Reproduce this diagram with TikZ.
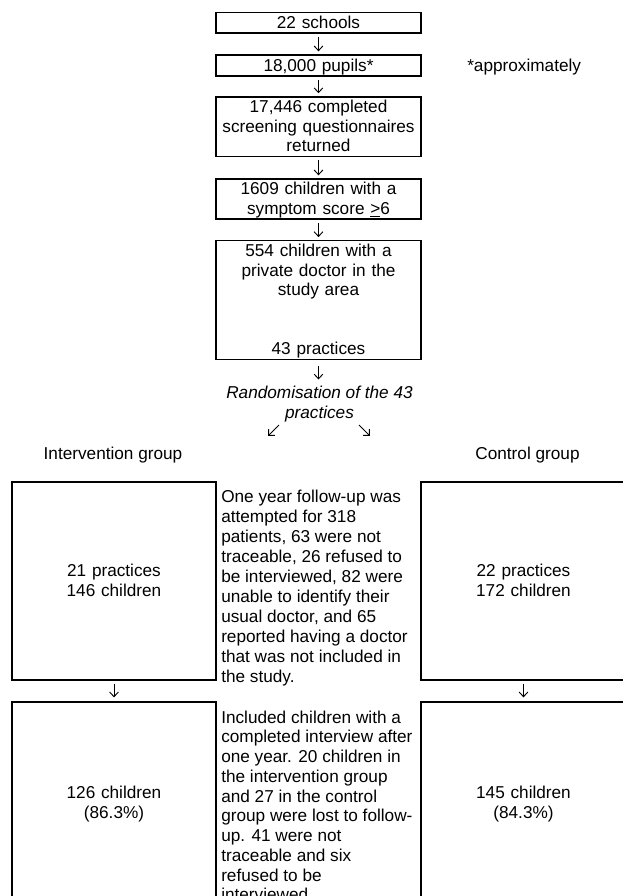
\documentclass[tikz,border=0pt]{standalone}
\usepackage{fontspec}
\setmainfont{Liberation Sans}
\usetikzlibrary{arrows.meta}
\newcommand\mystrut{\rule[-3.16pt]{0pt}{14.8pt}}
\begin{document}
\begin{tikzpicture}[x=0.75pt,y=-0.75pt,
  every node/.style={font=\fontsize{12.9pt}{14.8pt}\selectfont, inner sep=0pt},
  cbox/.style={draw, line width=0.9pt, align=center, text width=150pt, minimum width=153.75pt,
    execute at begin node=\mystrut, execute at end node=\mystrut},
  sbox/.style={cbox, minimum width=153pt},
  note/.style={align=left, anchor=north west, execute at begin node=\mystrut},
  arr/.style={line width=0.7pt, -{Straight Barb[length=3.5pt,width=6.5pt]}},
  vshort/.style={shorten <=2.6pt, shorten >=2.3pt}
]
\useasboundingbox (0,0) rectangle (623,896);
% central column
\node[cbox, minimum height=15.2pt] (b1) at (318.5,22.85) {22 schools};
\node[cbox, minimum height=15.75pt] (b2) at (318.5,65.5) {18,000 pupils*};
\node[cbox, minimum height=42.75pt] (b3) at (318.5,126.5) {17,446 completed\\screening questionnaires\\returned};
\node[cbox, minimum height=30pt] (b4) at (318.5,199) {1609 children with a\\symptom score \underline{>}6};
\node[cbox, minimum height=88.5pt] (b5) at (318.5,300) {554 children with a\\private doctor in the\\study area\\\mystrut\\\mystrut\\43 practices};
\node[anchor=base west] (ap) at (467,71.7) {*approximately};
\node[font=\fontsize{12.9pt}{15pt}\selectfont\itshape, align=center, anchor=north,
  execute at begin node=\mystrut] (rand) at (319.5,385.5) {Randomisation of the 43\\practices};
% group labels
\node[anchor=base] (ig) at (113,459.3) {Intervention group};
\node[anchor=base] (cg) at (527.5,459.3) {Control group};
% side boxes
\node[sbox, minimum height=148.5pt] (L1) at (114,581) {21 practices\\146 children};
\node[sbox, minimum height=148.5pt, minimum width=153.75pt] (R1) at (523.5,581) {22 practices\\172 children};
\node[sbox, minimum height=151.5pt] (L2) at (114,803) {126 children\\(86.3\%)};
\node[sbox, minimum height=151.5pt, minimum width=153.75pt] (R2) at (523.5,803) {145 children\\(84.3\%)};
% notes
\node[note, font=\fontsize{12.9pt}{15pt}\selectfont] (n1) at (221,489.5) {One year follow-up was\\attempted for 318\\patients, 63 were not\\traceable, 26 refused to\\be interviewed, 82 were\\unable to identify their\\usual doctor, and 65\\reported having a doctor\\that was not included in\\the study.};
\node[note] (n2) at (221,710.5) {Included children with a\\completed interview after\\one year. 20 children in\\the intervention group\\and 27 in the control\\group were lost to follow-\\up. 41 were not\\traceable and six\\refused to be\\interviewed.};
% connectors
\draw[arr, vshort] (b1) -- (b2);
\draw[arr, vshort] (b2) -- (b3);
\draw[arr, vshort] (b3) -- (b4);
\draw[arr, vshort] (b4) -- (b5);
\draw[arr, shorten <=5pt, shorten >=4.5pt] (b5.south) -- (b5.south |- rand.north);
\coordinate (dla) at (279,425);
\coordinate (dlb) at (268,436);
\coordinate (dra) at (359,425);
\coordinate (drb) at (370,436);
\draw[arr] (dla) -- (dlb);
\draw[arr] (dra) -- (drb);
\draw[arr, shorten <=2.3pt, shorten >=3pt] (L1) -- (L2);
\draw[arr, shorten <=2.3pt, shorten >=3pt] (R1) -- (R2);
\end{tikzpicture}
\end{document}
